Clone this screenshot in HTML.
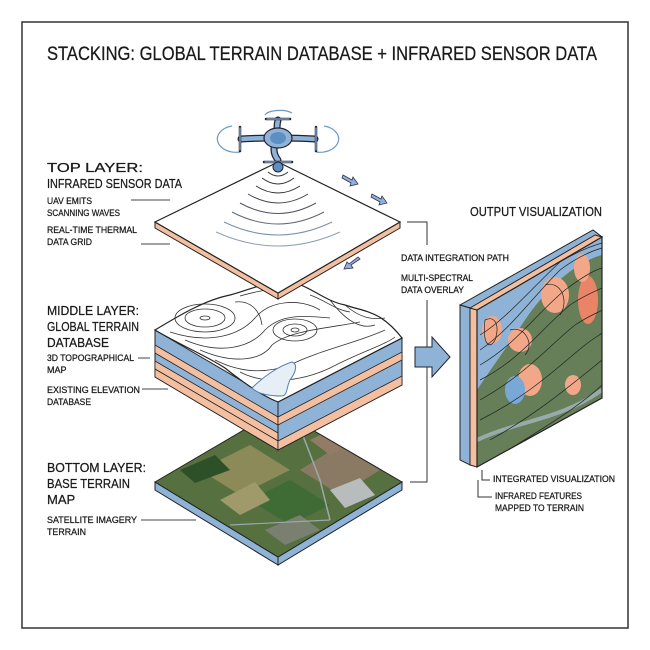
<!DOCTYPE html>
<html><head><meta charset="utf-8"><style>
html,body{margin:0;padding:0;background:#fff}
svg{display:block}
text{font-family:"Liberation Sans",sans-serif;fill:#1a1a1a;stroke:#1a1a1a;stroke-width:.25}
.h{font-size:13px}
.s{font-size:9px}
</style></head><body>
<svg width="650" height="650" viewBox="0 0 650 650" xmlns="http://www.w3.org/2000/svg">
<defs>
<clipPath id="cp"><polygon points="477,310 602,237 602,398 477,467"/></clipPath>
<clipPath id="bp"><polygon points="155,482 278,410 402,482 278,557"/></clipPath>
</defs>
<rect x="22" y="22" width="606" height="606" fill="#fff" stroke="#333" stroke-width="1.5"/>
<text x="47" y="60" font-size="19" textLength="550" lengthAdjust="spacingAndGlyphs">STACKING: GLOBAL TERRAIN DATABASE + INFRARED SENSOR DATA</text>

<!-- left labels -->
<text class="h" x="47" y="172" textLength="96" lengthAdjust="spacingAndGlyphs">TOP LAYER:</text>
<text class="h" x="47" y="188" textLength="135" lengthAdjust="spacingAndGlyphs">INFRARED SENSOR DATA</text>
<text class="s" x="47" y="204" textLength="45" lengthAdjust="spacingAndGlyphs">UAV EMITS</text>
<text class="s" x="47" y="216" textLength="73" lengthAdjust="spacingAndGlyphs">SCANNING WAVES</text>
<line x1="131" y1="200" x2="170" y2="200" stroke="#444"/>
<text class="s" x="47" y="233" textLength="90" lengthAdjust="spacingAndGlyphs">REAL-TIME THERMAL</text>
<text class="s" x="47" y="245" textLength="45" lengthAdjust="spacingAndGlyphs">DATA GRID</text>
<line x1="141" y1="244" x2="170" y2="244" stroke="#444"/>

<text class="h" x="47" y="315" textLength="92" lengthAdjust="spacingAndGlyphs">MIDDLE LAYER:</text>
<text class="h" x="47" y="331" textLength="92" lengthAdjust="spacingAndGlyphs">GLOBAL TERRAIN</text>
<text class="h" x="47" y="347" textLength="62" lengthAdjust="spacingAndGlyphs">DATABASE</text>
<text class="s" x="47" y="361" textLength="87" lengthAdjust="spacingAndGlyphs">3D TOPOGRAPHICAL</text>
<text class="s" x="47" y="373">MAP</text>
<line x1="138" y1="358" x2="150" y2="358" stroke="#444"/>
<text class="s" x="47" y="393" textLength="93" lengthAdjust="spacingAndGlyphs">EXISTING ELEVATION</text>
<text class="s" x="47" y="405" textLength="44" lengthAdjust="spacingAndGlyphs">DATABASE</text>
<line x1="142" y1="389" x2="168" y2="389" stroke="#444"/>

<text class="h" x="47" y="472" textLength="99" lengthAdjust="spacingAndGlyphs">BOTTOM LAYER:</text>
<text class="h" x="47" y="488" textLength="83" lengthAdjust="spacingAndGlyphs">BASE TERRAIN</text>
<text class="h" x="47" y="504">MAP</text>
<text class="s" x="47" y="523" textLength="90" lengthAdjust="spacingAndGlyphs">SATELLITE IMAGERY</text>
<text class="s" x="47" y="535" textLength="39" lengthAdjust="spacingAndGlyphs">TERRAIN</text>
<line x1="141" y1="520" x2="196" y2="520" stroke="#444"/>

<!-- bottom plate -->
<polygon points="155,482 278,557 278,565 155,490" fill="#8fb3d6" stroke="#222"/>
<polygon points="278,557 402,482 402,490 278,565" fill="#8fb3d6" stroke="#222"/>
<g clip-path="url(#bp)">
<rect x="150" y="400" width="260" height="170" fill="#56703f"/>
<polygon points="200,470 250,445 290,470 240,495" fill="#8d8a5a"/>
<polygon points="300,470 340,445 380,470 340,495" fill="#8a7a64"/>
<polygon points="250,500 290,480 330,505 290,525" fill="#3f6b35"/>
<polygon points="220,500 255,482 270,500 240,515" fill="#a09a6a"/>
<polygon points="310,440 340,425 360,440 330,455" fill="#927c66"/>
<polygon points="330,490 360,478 375,495 345,508" fill="#b8bcbc"/>
<polygon points="180,470 215,455 230,470 195,483" fill="#2e5028"/>
<polygon points="265,530 300,515 320,530 285,545" fill="#7a8070"/>
<path d="M295,415 L320,480 L330,520" stroke="#9aa" stroke-width="1.5" fill="none"/>
<path d="M230,525 L330,520" stroke="#9aa" stroke-width="1.2" fill="none"/>
</g>
<polygon points="155,482 278,410 402,482 278,557" fill="none" stroke="#222"/>

<!-- middle layer -->
<polygon points="155,330 278,402 278,450 155,377" fill="#8fb3d6" stroke="#222"/>
<polygon points="155,345 278,417 278,425 155,353" fill="#f4bfa0" stroke="#222" stroke-width=".8"/>
<polygon points="155,361 278,433 278,441 155,369" fill="#f4bfa0" stroke="#222" stroke-width=".8"/>
<polygon points="155,369 278,441 278,450 155,377" fill="#f4bfa0" stroke="#222" stroke-width=".8"/>
<polygon points="278,402 402,338 402,385 278,450" fill="#8fb3d6" stroke="#222"/>
<polygon points="278,417 402,352 402,360 278,425" fill="#f4bfa0" stroke="#222" stroke-width=".8"/>
<polygon points="278,441 402,376 402,385 278,450" fill="#f4bfa0" stroke="#222" stroke-width=".8"/>
<path d="M155,330 C180,315 205,300 230,295 C250,290 262,282 285,283 C305,280 320,300 345,305 C365,312 380,310 402,338 L278,402 C260,395 240,380 225,368 C205,355 180,345 155,330 Z" fill="#fff" stroke="#222" stroke-width="1.2"/>
<g fill="none" stroke="#333" stroke-width=".8">
<ellipse cx="205" cy="318" rx="30" ry="14"/><ellipse cx="205" cy="318" rx="20" ry="9"/><ellipse cx="205" cy="318" rx="5" ry="2"/>
<ellipse cx="295" cy="330" rx="12" ry="6"/><ellipse cx="295" cy="330" rx="22" ry="11"/><ellipse cx="295" cy="330" rx="4" ry="2"/>
<path d="M170,332 C210,345 240,335 255,318 C270,300 300,298 320,310"/>
<path d="M185,340 C220,355 250,348 265,330 C280,315 300,315 330,318"/>
<path d="M200,350 C235,365 262,360 272,345 C290,330 330,328 360,322"/>
<path d="M215,360 C245,375 270,372 290,365 C320,350 360,342 385,330"/>
<path d="M240,372 C265,385 300,382 330,368 C360,352 385,345 395,337"/>
<path d="M235,302 C250,300 260,310 262,325"/>
<path d="M330,300 C345,320 360,330 375,325"/>
<path d="M345,305 C360,318 372,320 385,318"/>
<path d="M240,296 C255,292 270,288 280,290"/>
<path d="M310,295 C325,300 335,310 350,312"/>
</g>
<path d="M252,388 C262,378 278,366 292,362 C298,364 296,372 290,380 C286,388 288,395 282,396 C270,396 258,394 252,388 Z" fill="#e6eef6" stroke="#4d7fb3" stroke-width="1"/>

<!-- top plate -->
<polygon points="155,222 278,293 278,299 155,228" fill="#f4bfa0" stroke="#222"/>
<polygon points="278,293 400,222 400,228 278,299" fill="#f4bfa0" stroke="#222"/>
<polygon points="155,222 278,162 400,222 278,293" fill="#fff" stroke="#222" stroke-width="1.2"/>
<g fill="none" stroke-width="1">
<path d="M268,172 Q278,180 288,172" stroke="#333"/>
<path d="M262,178 Q278,190 294,178" stroke="#333"/>
<path d="M256,186 Q278,200 300,186" stroke="#333"/>
<path d="M248,194 Q278,212 308,194" stroke="#444"/>
<path d="M240,203 Q278,224 316,203" stroke="#556"/>
<path d="M232,212 Q278,236 324,212" stroke="#667"/>
<path d="M224,222 Q278,248 332,222" stroke="#7a90a8"/>
<path d="M216,232 Q278,260 340,232" stroke="#8aa0b8"/>
</g>

<!-- drone -->
<g>
<path d="M232,126 A14,10 0 0 0 240,152" fill="none" stroke="#6b9ac8" stroke-width="1.2"/>
<path d="M324,126 A14,10 0 0 1 316,152" fill="none" stroke="#6b9ac8" stroke-width="1.2"/>
<path d="M265,115 A15,6 0 0 1 292,113" fill="none" stroke="#6b9ac8" stroke-width="1.2"/>
<g stroke="#223" stroke-width="7" stroke-linecap="round" fill="none">
<path d="M278,138 Q258,138 241,139"/><path d="M278,138 Q298,138 315,139"/>
<path d="M278,138 Q276,128 278,120"/><path d="M278,138 Q270,150 278,160"/>
</g>
<g stroke="#8fb3d6" stroke-width="4.5" stroke-linecap="round" fill="none">
<path d="M278,138 Q258,138 241,139"/><path d="M278,138 Q298,138 315,139"/>
<path d="M278,138 Q276,128 278,120"/><path d="M278,138 Q270,150 278,160"/>
</g>
<ellipse cx="278" cy="138" rx="14" ry="10" fill="#8fb3d6" stroke="#223" stroke-width="1.2"/>
<ellipse cx="278" cy="138" rx="8" ry="6" fill="#5d8fc3"/>
<g stroke="#223" stroke-width="2.5" stroke-linecap="round">
<line x1="240" y1="127" x2="240" y2="151"/><line x1="316" y1="127" x2="316" y2="151"/>
<line x1="266" y1="119" x2="290" y2="119"/><line x1="264" y1="162" x2="292" y2="162"/>
</g>
<g stroke="#8fb3d6" stroke-width="1.2" stroke-linecap="round">
<line x1="240" y1="128" x2="240" y2="150"/><line x1="316" y1="128" x2="316" y2="150"/>
<line x1="267" y1="119" x2="289" y2="119"/><line x1="265" y1="162" x2="291" y2="162"/>
</g>
<circle cx="278" cy="167" r="5" fill="#5d8fc3" stroke="#223"/>
</g>
<g fill="#8fb3d6" stroke="#335" stroke-width=".8">
<polygon points="343,175 352,180 353,177 358,184 350,186 351,183 342,178"/>
<polygon points="372,194 381,199 382,196 387,203 379,205 380,202 371,197"/>
<polygon points="360,259 351,265 353,268 344,269 347,262 349,264 358,257"/>
</g>

<!-- integration bracket -->
<polyline points="407,222 427,222 427,245" fill="none" stroke="#333"/>
<polyline points="427,300 427,482 410,482" fill="none" stroke="#333"/>
<text class="s" x="401" y="261" textLength="108" lengthAdjust="spacingAndGlyphs">DATA INTEGRATION PATH</text>
<text class="s" x="401" y="281" textLength="72" lengthAdjust="spacingAndGlyphs">MULTI-SPECTRAL</text>
<text class="s" x="401" y="293" textLength="63" lengthAdjust="spacingAndGlyphs">DATA OVERLAY</text>
<polygon points="415,347 432,347 432,337 450,357 432,377 432,367 415,367" fill="#8fb3d6" stroke="#223"/>

<!-- output -->
<text x="470" y="216" font-size="13" textLength="132" lengthAdjust="spacingAndGlyphs">OUTPUT VISUALIZATION</text>
<polygon points="460,305 593,230 602,237 477,310" fill="#8fb3d6" stroke="#222"/>
<polygon points="460,305 470,308 470,465 460,460" fill="#8fb3d6" stroke="#222"/>
<polygon points="470,308 477,310 477,467 470,465" fill="#f4bfa0" stroke="#222"/>
<polygon points="470,308 595,235 602,237 477,310" fill="#f4bfa0" stroke="#222"/>
<g clip-path="url(#cp)">
<rect x="470" y="230" width="140" height="240" fill="#667f58"/>
<path d="M477,310 L602,237 L602,255 C575,262 545,290 525,320 C505,350 490,370 477,390 Z" fill="#8fb3d6"/>
<ellipse cx="492" cy="330" rx="10" ry="14" fill="#f2a888"/>
<ellipse cx="520" cy="340" rx="12" ry="12" fill="#f2a888"/>
<ellipse cx="555" cy="295" rx="14" ry="18" fill="#f2a888"/>
<ellipse cx="588" cy="300" rx="10" ry="24" fill="#e98466"/>
<ellipse cx="530" cy="380" rx="12" ry="16" fill="#f2a888"/>
<ellipse cx="515" cy="390" rx="10" ry="14" fill="#7aa8d6"/>
<ellipse cx="573" cy="385" rx="8" ry="10" fill="#f2a888"/>
<ellipse cx="582" cy="268" rx="8" ry="14" fill="#f2a888"/>
<path d="M477,440 C520,420 560,420 602,390" stroke="#9aa" stroke-width="4" fill="none"/>
<g fill="none" stroke="#222" stroke-width=".7">
<path d="M480,335 C505,320 530,290 560,262 C580,250 595,245 602,243"/>
<path d="M480,350 C510,330 530,300 560,270 C580,255 595,250 602,248"/>
<path d="M480,365 C515,345 535,315 565,290 C585,275 595,270 602,268"/>
<path d="M480,380 C520,360 540,330 570,305 C585,295 598,290 602,288"/>
<path d="M480,400 C525,375 550,345 575,325 C590,315 600,312 602,310"/>
<path d="M480,420 C530,395 560,365 585,345 C595,337 600,335 602,333"/>
<path d="M490,440 C535,415 565,390 602,360"/>
<path d="M500,455 C540,430 575,410 602,385"/>
<path d="M485,320 C495,315 500,325 495,340 C490,350 482,345 485,320"/>
<path d="M510,330 C525,325 535,345 525,355"/>
<path d="M545,285 C560,280 570,300 560,315"/>
</g>
</g>
<polygon points="477,310 602,237 602,398 477,467" fill="none" stroke="#222" stroke-width="1.2"/>
<polyline points="482,470 482,480 490,480" fill="none" stroke="#333"/>
<polyline points="478,480 478,497 492,497" fill="none" stroke="#333"/>
<text class="s" x="493" y="482" textLength="122" lengthAdjust="spacingAndGlyphs">INTEGRATED VISUALIZATION</text>
<text class="s" x="495" y="499" textLength="87" lengthAdjust="spacingAndGlyphs">INFRARED FEATURES</text>
<text class="s" x="495" y="511" textLength="89" lengthAdjust="spacingAndGlyphs">MAPPED TO TERRAIN</text>
</svg>
</body></html>
